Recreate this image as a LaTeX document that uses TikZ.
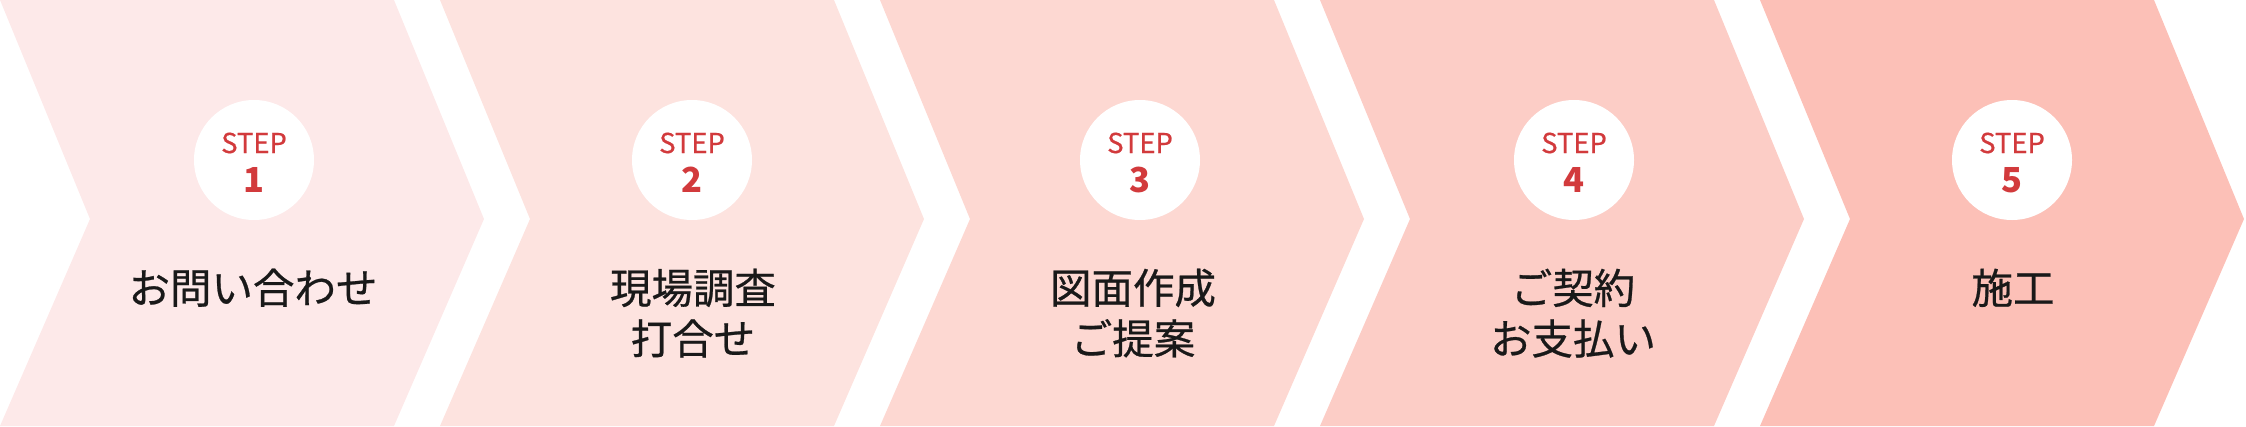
\documentclass[tikz,border=0pt]{standalone}
\usepackage{fontspec}
\setmainfont{Noto Sans CJK JP}
\newfontfamily\medfont[FakeBold=0.6]{Noto Sans CJK JP}
\definecolor{stepA}{HTML}{FDE9E9}
\definecolor{stepB}{HTML}{FDE3DF}
\definecolor{stepC}{HTML}{FDD8D2}
\definecolor{stepD}{HTML}{FCCDC6}
\definecolor{stepE}{HTML}{FCC0B7}
\definecolor{stepred}{HTML}{D23A3C}
\tikzset{
  x=0.1mm, y=0.1mm,
  badge/.style = {circle, fill=white, minimum size=12mm, inner sep=0pt},
  steptext/.style = {text=stepred, font=\medfont\fontsize{7.8pt}{8pt}\selectfont, inner sep=0pt},
  stepnum/.style = {text=stepred, font=\bfseries\fontsize{9.8pt}{10pt}\selectfont, inner sep=0pt},
  title/.style = {text=black!90, font=\medfont\fontsize{11.8pt}{14.4pt}\selectfont,
    align=center, anchor=north, inner sep=0pt}
}
\begin{document}
\begin{tikzpicture}
  \useasboundingbox (0,0) rectangle (2246,426);
  \foreach \i/\cx/\col/\txt in {0/254/stepA/{お問い合わせ},
                                1/252/stepB/{現場調査\\打合せ},
                                2/260/stepC/{図面作成\\ご提案},
                                3/254/stepD/{ご契約\\お支払い},
                                4/252/stepE/{施工}} {
    \pgfmathsetmacro{\xo}{440*\i}
    \fill[\col] (\xo,426) -- ++(394,0) -- ++(90,-219) -- ++(-90,-207)
      -- ++(-394,0) -- ++(90,207) -- cycle;
    \node[badge] (badge\i) at (\xo+\cx,266) {};
    \node[steptext] (step\i) at (\xo+\cx,283) {STEP};
    \pgfmathtruncatemacro{\n}{\i+1}
    \node[stepnum] (num\i) at (\xo+\cx,246) {\n};
    \node[title] (title\i) at (\xo+253,158) {\txt};
  }
\end{tikzpicture}
\end{document}
